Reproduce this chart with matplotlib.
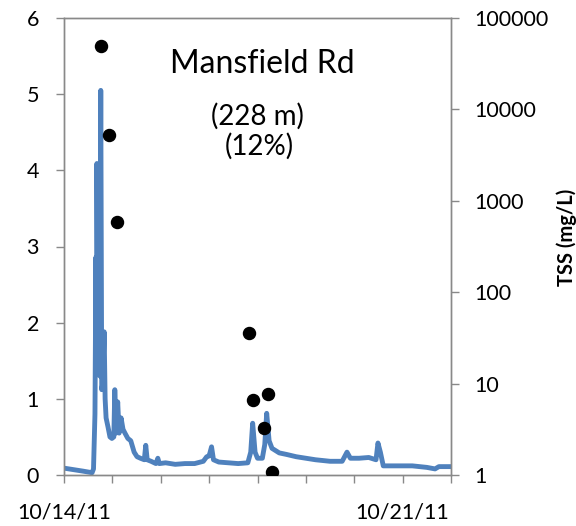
import pandas as pd
import matplotlib.pyplot as plt
from matplotlib.ticker import FixedLocator, FixedFormatter

plt.rcParams['font.family'] = ['Lato', 'DejaVu Sans']

# Hidrograma (dias desde 10/14/11 00:00) e vazão
q_dias = [0.00, 0.20, 0.40, 0.58, 0.61, 0.64, 0.66, 0.67, 0.68, 0.70, 0.72, 0.74,
          0.76, 0.78, 0.80, 0.83, 0.85, 0.87, 0.91, 0.95, 0.99, 1.03, 1.05, 1.08,
          1.11, 1.14, 1.18, 1.22, 1.26, 1.32, 1.38, 1.45, 1.51, 1.58, 1.66, 1.69,
          1.72, 1.80, 1.90, 1.94, 1.97, 2.10, 2.30, 2.50, 2.70, 2.88, 2.95, 3.00,
          3.05, 3.09, 3.20, 3.40, 3.60, 3.80, 3.86, 3.90, 3.95, 4.00, 4.10, 4.15,
          4.19, 4.24, 4.30, 4.45, 4.60, 4.80, 5.00, 5.20, 5.50, 5.75, 5.85, 5.92,
          6.10, 6.30, 6.45, 6.49, 6.54, 6.60, 6.80, 7.20, 7.50, 7.67, 7.75, 8.00]
q_vazao = [0.09, 0.07, 0.05, 0.03, 0.08, 0.80, 2.86, 1.50, 4.09, 2.00, 3.50, 1.30,
           5.05, 1.12, 1.20, 1.88, 1.00, 0.75, 0.63, 0.50, 0.48, 0.50, 1.12, 0.55,
           0.96, 0.55, 0.75, 0.60, 0.55, 0.48, 0.45, 0.30, 0.24, 0.22, 0.20, 0.39,
           0.20, 0.18, 0.15, 0.22, 0.15, 0.16, 0.14, 0.15, 0.15, 0.18, 0.24, 0.25,
           0.37, 0.20, 0.17, 0.16, 0.15, 0.16, 0.30, 0.68, 0.30, 0.22, 0.22, 0.40,
           0.81, 0.45, 0.35, 0.29, 0.27, 0.24, 0.22, 0.20, 0.18, 0.18, 0.30, 0.22,
           0.22, 0.23, 0.20, 0.42, 0.30, 0.12, 0.12, 0.12, 0.10, 0.08, 0.11, 0.11]

# Amostras de TSS (mg/L)
tss_dias = [0.76, 0.94, 1.10, 3.83, 3.90, 4.14, 4.22, 4.30]
tss_valor = [50000, 5200, 580, 36, 6.6, 3.3, 7.7, 1.07]

titulo = "Mansfield Rd"
subtitulo1 = "(228 m)"
subtitulo2 = "(12%)"

inicio = pd.Timestamp("2011-10-14")
x_q = inicio + pd.to_timedelta(q_dias, unit="D")
x_tss = inicio + pd.to_timedelta(tss_dias, unit="D")
dias_ticks = pd.date_range("2011-10-14", "2011-10-22", freq="D")
rotulos_x = ["10/14/11" if d.day == 14 else ("10/21/11" if d.day == 21 else "") for d in dias_ticks]

cinza = "#898989"

fig = plt.figure(figsize=(5.76, 5.26), dpi=100)
ax = fig.add_axes([64 / 576, 51 / 526, 387 / 576, 457 / 526])
ax2 = ax.twinx()

ax.plot(x_q, q_vazao, color="#4F81BD", linewidth=3.5, solid_joinstyle="round")
ax2.scatter(x_tss, tss_valor, s=75, color="black", zorder=5)

ax.set_ylim(0, 6)
ax.set_yticks(range(0, 7))
ax.set_xlim(dias_ticks[0], dias_ticks[-1])
ax.xaxis.set_major_locator(FixedLocator(ax.convert_xunits(list(dias_ticks))))
ax.xaxis.set_major_formatter(FixedFormatter(rotulos_x))

ax2.set_yscale("log")
ax2.set_ylim(1, 100000)
ax2.set_yticks([1, 10, 100, 1000, 10000, 100000])
ax2.set_yticklabels(["1", "10", "100", "1000", "10000", "100000"])
ax2.minorticks_off()
ax2.set_ylabel("TSS (mg/L)", fontsize=14.5, fontweight="bold", rotation=90, va="center", ha="center")
ax2.yaxis.set_label_coords(1.30, 0.52)

for a in (ax, ax2):
    for s in a.spines.values():
        s.set_color(cinza)
        s.set_linewidth(1)
    a.tick_params(colors=cinza, labelcolor="black", length=6, width=1, labelsize=15.5)
ax.tick_params(axis="y", pad=12)
ax.tick_params(axis="x", pad=14)
ax2.tick_params(axis="y", pad=11)

ax.text(0.512, 0.90, titulo, transform=ax.transAxes, ha="center", va="center", fontsize=23)
ax.text(0.50, 0.786, subtitulo1, transform=ax.transAxes, ha="center", va="center", fontsize=20)
ax.text(0.504, 0.72, subtitulo2, transform=ax.transAxes, ha="center", va="center", fontsize=20)

fig.savefig("out.png", dpi=100)
